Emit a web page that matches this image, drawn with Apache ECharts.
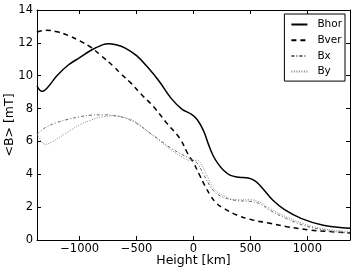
<!DOCTYPE html>
<html>
<head>
<meta charset="utf-8">
<script src="https://cdn.jsdelivr.net/npm/echarts@6/dist/echarts.min.js"></script>
<style>html,body{margin:0;padding:0;background:#fff}#c{width:356px;height:272px}</style>
</head>
<body>
<div id="c"></div>
<script>
const xTicks = [-1000, -500, 0, 500, 1000];
const yTicks = [0, 2, 4, 6, 8, 10, 12, 14];

const bhorH = [-1375,-1330,-1280,-1200,-1100,-1000,-900,-800,-750,-680,-600,-500,-400,-300,-200,-100,-30,30,88,130,175,220,263,320,400,480,540,600,700,800,950,1140,1375];
const bhorV = [9.37,9.05,9.3,10.0,10.65,11.1,11.55,11.88,11.95,11.88,11.68,11.22,10.5,9.65,8.65,7.95,7.7,7.35,6.65,5.85,5.1,4.6,4.25,3.95,3.82,3.77,3.6,3.2,2.4,1.85,1.3,0.9,0.72];

const bverH = [-1375,-1300,-1200,-1100,-1000,-900,-818,-700,-643,-550,-468,-351,-233,-117,-50,0,50,100,150,200,260,380,520,670,820,1020,1200,1375];
const bverV = [12.65,12.76,12.68,12.45,12.12,11.72,11.26,10.55,10.15,9.55,8.93,8.11,7.1,6.15,5.25,4.7,4.0,3.3,2.7,2.25,1.95,1.52,1.22,1.02,0.81,0.61,0.51,0.43];

const bxH = [-1375,-1300,-1200,-1100,-1000,-900,-800,-700,-600,-500,-400,-300,-200,-100,-30,30,88,175,263,380,497,585,673,819,965,1111,1258,1375];
const bxV = [6.45,6.85,7.15,7.35,7.5,7.6,7.62,7.58,7.42,7.1,6.6,6.1,5.6,5.2,4.95,4.7,4.0,3.0,2.6,2.4,2.35,2.2,1.8,1.3,0.9,0.65,0.5,0.42];

const byH = [-1375,-1340,-1300,-1250,-1200,-1100,-1000,-900,-800,-700,-600,-500,-400,-300,-200,-100,-30,30,70,120,175,263,380,497,585,673,819,965,1111,1258,1375];
const byV = [6.5,6.0,5.82,5.95,6.15,6.6,7.0,7.3,7.5,7.55,7.45,7.15,6.6,6.05,5.5,5.05,4.85,4.85,4.6,3.9,3.15,2.7,2.45,2.45,2.3,1.9,1.4,1.0,0.72,0.58,0.52];

function pairs(h, v) { return h.map((x, i) => [x, v[i]]); }

const FONT = 'DejaVu Sans';
const chart = echarts.init(document.getElementById('c'), null, {renderer: 'canvas'});
const fmt = v => (v < 0 ? '\u2212' + Math.abs(v) : String(v));

const axisCommon = {
  axisLine: {show: true, onZero: false, lineStyle: {color: '#000', width: 1}},
  splitLine: {show: false},
  nameMoveOverlap: false
};

chart.setOption({
  animation: false,
  backgroundColor: '#fff',
  textStyle: {fontFamily: FONT},
  grid: {left: 37, right: 6, top: 10, bottom: 32, containLabel: false, outerBoundsMode: 'none'},
  legend: {
    orient: 'vertical',
    right: 11, top: 14,
    itemWidth: 16, itemHeight: 10, itemGap: 4.7,
    padding: [5, 3, 4, 6],
    borderColor: '#000', borderWidth: 1, borderRadius: 0,
    backgroundColor: '#fff',
    itemStyle: {color: 'rgba(0,0,0,0)', borderColor: 'rgba(0,0,0,0)', borderWidth: 0},
    textStyle: {fontFamily: FONT, fontSize: 10.5, color: '#000', padding: [0, 0, 0, 5], lineHeight: 10},
    data: ['Bhor', 'Bver', 'Bx', 'By']
  },
  xAxis: [{
    type: 'value', min: -1375, max: 1375, position: 'bottom',
    ...axisCommon,
    name: 'Height [km]', nameLocation: 'middle', nameGap: 14,
    nameTextStyle: {fontFamily: FONT, fontSize: 12.5, color: '#000'},
    axisTick: {show: true, inside: true, length: 4, customValues: xTicks, lineStyle: {color: '#000'}},
    axisLabel: {show: true, customValues: xTicks, formatter: fmt, fontFamily: FONT, fontSize: 11.5, color: '#000', margin: 3}
  }, {
    type: 'value', min: -1375, max: 1375, position: 'top',
    ...axisCommon,
    axisTick: {show: true, inside: true, length: 4, customValues: xTicks, lineStyle: {color: '#000'}},
    axisLabel: {show: false}
  }],
  yAxis: [{
    type: 'value', min: 0, max: 14, interval: 2, position: 'left',
    ...axisCommon,
    name: '<B> [mT]', nameLocation: 'middle', nameGap: 21, nameRotate: 90,
    nameTextStyle: {fontFamily: FONT, fontSize: 12.5, color: '#000'},
    axisTick: {show: true, inside: true, length: 4, lineStyle: {color: '#000'}},
    axisLabel: {show: true, fontFamily: FONT, fontSize: 11.5, color: '#000', margin: 4}
  }, {
    type: 'value', min: 0, max: 14, interval: 2, position: 'right',
    ...axisCommon,
    axisTick: {show: true, inside: true, length: 4, lineStyle: {color: '#000'}},
    axisLabel: {show: false}
  }],
  series: [
    {name: 'Bhor', type: 'line', data: pairs(bhorH, bhorV), symbol: 'none', smooth: 0.4,
     lineStyle: {color: '#000', width: 1.5}, itemStyle: {color: '#000'}},
    {name: 'Bver', type: 'line', data: pairs(bverH, bverV), symbol: 'none', smooth: 0.4,
     lineStyle: {color: '#000', width: 1.5, type: [5, 4]}, itemStyle: {color: '#000'}},
    {name: 'Bx', type: 'line', data: pairs(bxH, bxV), symbol: 'none', smooth: 0.4,
     lineStyle: {color: '#666', width: 1, type: [3, 2, 1, 2]}, itemStyle: {color: '#666'}},
    {name: 'By', type: 'line', data: pairs(byH, byV), symbol: 'none', smooth: 0.4,
     lineStyle: {color: '#888', width: 1, type: [1, 1.5]}, itemStyle: {color: '#888'}}
  ]
});
</script>
</body>
</html>
